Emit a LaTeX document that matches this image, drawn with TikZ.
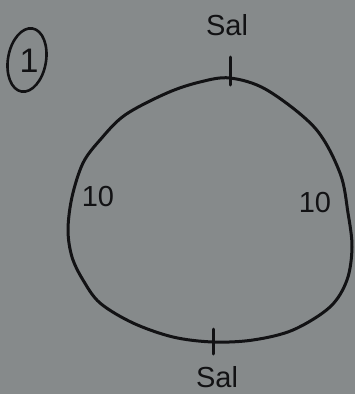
\documentclass[tikz,border=0pt]{standalone}
\usepackage{fontspec}
\setmainfont{Liberation Sans}
\definecolor{paper}{RGB}{134,138,139}
\definecolor{ink}{RGB}{18,18,20}
\begin{document}
\begin{tikzpicture}[x=1pt,y=-1pt,
  inkline/.style={draw=ink,line width=3pt,line cap=round,line join=round},
  lbl/.style={text=ink,font=\fontsize{29}{29}\selectfont,inner sep=0pt}]
\fill[paper] (0,0) rectangle (355,394);
\useasboundingbox (0,0) rectangle (355,394);
% circled number
\draw[inkline,line width=2.6pt,rotate around={-10:(27,60)}] (27,60) ellipse (19 and 32);
\node[lbl,font=\fontsize{34}{34}\selectfont] (num) at (29,61) {1};
% closed curve
\draw[inkline] plot[smooth cycle,tension=0.55] coordinates {
 (230,78) (267,90) (315,128) (340,173) (348,213) (352,247) (347,280)
 (330,307) (293,330) (253,340) (213,342) (173,337) (133,323) (100,303)
 (83,280) (72,257) (68,230) (72,197) (83,163) (100,140) (125,115) (167,93) (200,82)};
% ticks
\coordinate (t1) at (230,57); \coordinate (t2) at (230,85);
\coordinate (b1) at (213,329); \coordinate (b2) at (213,354);
\draw[inkline] (t1) -- (t2);
\draw[inkline] (b1) -- (b2);
% labels
\node[lbl] (top) at (227,25) {Sal};
\node[lbl] (bot) at (217,377) {Sal};
\node[lbl] (left) at (98,197) {10};
\node[lbl] (right) at (315,203) {10};
\end{tikzpicture}
\end{document}
